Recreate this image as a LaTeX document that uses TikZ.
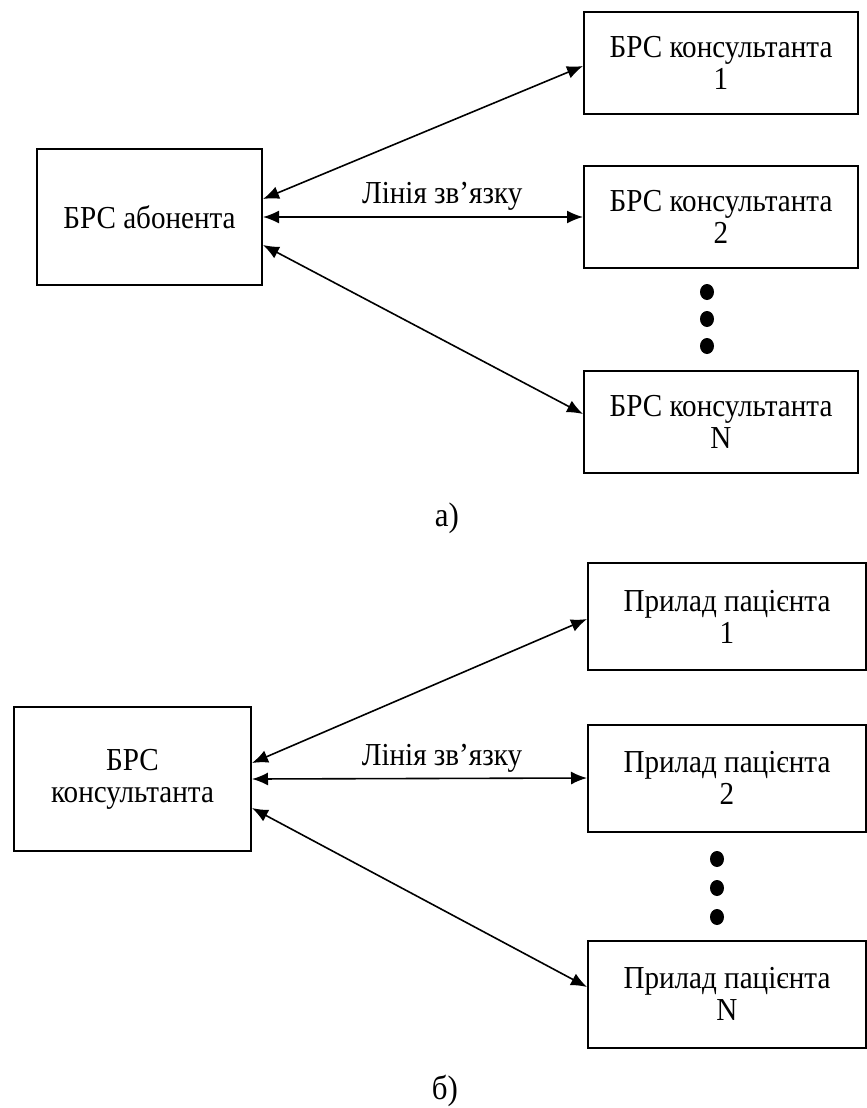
\documentclass[tikz,border=0pt]{standalone}
\usepackage{fontspec}
\setmainfont{Liberation Serif}[FakeStretch=0.91]
\usetikzlibrary{arrows.meta}
\begin{document}
\begin{tikzpicture}[x=1pt,y=-1pt,
  font=\fontsize{32}{32}\selectfont,
  block/.style={draw, line width=2pt, align=center, inner sep=0pt},
  rbox/.style={block, minimum width=274pt, minimum height=102pt},
  pbox/.style={block, minimum width=278pt, minimum height=107pt},
  link/.style={line width=1.6pt, {Latex[length=16pt,width=13pt]}-{Latex[length=16pt,width=13pt]}},
  caption/.style={anchor=base, font=\fontsize{34}{34}\selectfont},
]
\useasboundingbox (0,0) rectangle (867,1108);

% --- a) subscriber station linked to consultants
\node[block, minimum width=225pt, minimum height=136pt] (A) at (149.5,217) {БРС абонента};
\node[rbox] (A1) at (721,63)  {БРС консультанта\\1};
\node[rbox] (A2) at (721,217) {БРС консультанта\\2};
\node[rbox] (AN) at (721,422) {БРС консультанта\\N};
\draw[link] ([yshift=18pt]A.east) -- ([yshift=-3pt]A1.west);
\draw[link] (A.east) -- node[pos=0.56, above=2pt] {Лінія зв’язку} (A2.west);
\draw[link] ([yshift=-28pt]A.east) -- ([yshift=8pt]AN.west);
\fill (707,292) ellipse [x radius=7pt, y radius=8pt];
\fill (707,319) ellipse [x radius=7pt, y radius=8pt];
\fill (707,346) ellipse [x radius=7pt, y radius=8pt];
\node[caption] (capA) at (447,526) {а)};

% --- б) consultant station linked to patient devices
\node[block, minimum width=237pt, minimum height=144pt] (B) at (132.5,779) {БРС\\консультанта};
\node[pbox] (B1) at (727,616.5) {Прилад пацієнта\\1};
\node[pbox] (B2) at (727,778) {Прилад пацієнта\\2};
\node[pbox] (BN) at (727,994) {Прилад пацієнта\\N};
\draw[link] ([yshift=16pt]B.east) -- ([yshift=-2.5pt]B1.west);
\draw[link] (B.east) -- node[pos=0.567, above=2pt] {Лінія зв’язку} (B2.west);
\draw[link] ([yshift=-29pt]B.east) -- ([yshift=7pt]BN.west);
\fill (717,859) ellipse [x radius=7pt, y radius=8pt];
\fill (717,888) ellipse [x radius=7pt, y radius=8pt];
\fill (717,917) ellipse [x radius=7pt, y radius=8pt];
\node[caption] (capB) at (445,1099) {б)};
\end{tikzpicture}
\end{document}
